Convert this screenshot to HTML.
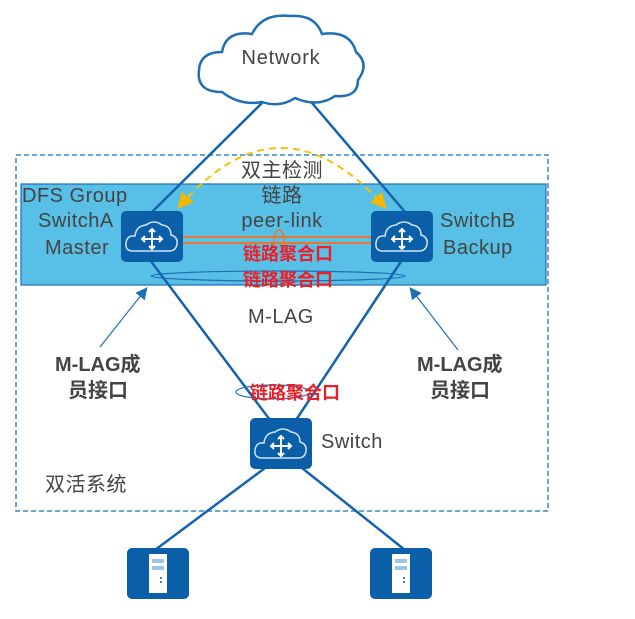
<!DOCTYPE html>
<html><head><meta charset="utf-8"><style>
html,body{margin:0;padding:0;background:#fff;}
svg text{font-family:"Liberation Sans","Noto Sans CJK SC",sans-serif;}
</style></head><body>
<svg width="635" height="614" viewBox="0 0 635 614" xmlns="http://www.w3.org/2000/svg">
<defs>
<g id="sw">
  <rect x="0" y="0" width="62" height="51" rx="5" fill="#0a5fa8"/>
  <path d="M12 40 Q4 40 5 32 Q6 24 14 25 Q15 15 25 14 Q33 8 41 14 Q50 15 50 24 Q57 26 56 33 Q55 40 48 40 Z" fill="none" stroke="#cfe3f5" stroke-width="1.5"/>
  <g stroke="#fff" stroke-width="2" fill="none">
    <line x1="31" y1="18" x2="31" y2="38"/><line x1="21" y1="28" x2="41" y2="28"/>
    <path d="M28 21 L31 18 L34 21 M28 35 L31 38 L34 35 M24 25 L21 28 L24 31 M38 25 L41 28 L38 31"/>
  </g>
</g>
<g id="srv">
  <rect x="0" y="0" width="62" height="51" rx="5" fill="#0a5fa8"/>
  <rect x="22" y="6" width="18" height="39" fill="#fff"/>
  <rect x="25" y="11" width="12" height="4" fill="#9cc4e6"/>
  <rect x="25" y="18" width="12" height="4" fill="#9cc4e6"/>
  <circle cx="34" cy="30" r="1" fill="#0a5fa8"/><circle cx="34" cy="34" r="1" fill="#0a5fa8"/>
</g>
<marker id="ay" markerWidth="8" markerHeight="8" refX="6" refY="4" orient="auto-start-reverse"><path d="M0 0 L8 4 L0 8 Z" fill="#f5b800"/></marker>
<marker id="ab" markerWidth="10" markerHeight="10" refX="8" refY="5" orient="auto"><path d="M0 0 L10 5 L0 10 Z" fill="#1f6fb5"/></marker>
</defs>

<rect x="16" y="155" width="532" height="356" fill="none" stroke="#3a86c8" stroke-width="1.5" stroke-dasharray="5,3"/>
<rect x="21" y="184" width="525" height="101" fill="#58bfe6" stroke="#1f6fb5" stroke-width="1.2"/>

<path d="M222 92 Q196 92 199 70 Q200 52 222 52 Q226 30 252 34 Q262 13 290 16 Q315 14 322 34 Q350 30 356 52 Q370 64 358 80 Q358 98 335 96 Q318 108 295 98 Q280 108 262 102 Q240 106 222 92 Z" fill="#fff" stroke="#1f6fb5" stroke-width="2.5"/>
<text x="281" y="64" font-size="20" letter-spacing="0.8" fill="#444" text-anchor="middle">Network</text>

<g stroke="#1463ad" stroke-width="2.5" fill="none">
  <line x1="262" y1="103" x2="152" y2="212"/>
  <line x1="312" y1="103" x2="405" y2="212"/>
  <line x1="150" y1="260" x2="270" y2="420"/>
  <line x1="402" y1="260" x2="296" y2="420"/>
  <line x1="265" y1="468" x2="155" y2="550"/>
  <line x1="302" y1="468" x2="405" y2="550"/>
</g>

<path d="M180 206 Q280 90 384 206" fill="none" stroke="#f5c000" stroke-width="2" stroke-dasharray="7,5" marker-start="url(#ay)" marker-end="url(#ay)"/>

<line x1="183" y1="237" x2="371" y2="237" stroke="#e8782b" stroke-width="2"/>
<line x1="183" y1="243" x2="371" y2="243" stroke="#e8782b" stroke-width="2"/>
<path d="M274 245 L274 236 Q279 224 284 236 L284 245" fill="none" stroke="#e8782b" stroke-width="1.5"/>

<ellipse cx="278" cy="276" rx="127" ry="5" fill="none" stroke="#1f6fb5" stroke-width="1.2"/>
<ellipse cx="273" cy="392" rx="37" ry="7" fill="none" stroke="#1f6fb5" stroke-width="1.2"/>

<use href="#sw" x="121" y="211"/>
<use href="#sw" x="371" y="211"/>
<use href="#sw" x="250" y="418"/>
<use href="#srv" x="127" y="548"/>
<use href="#srv" x="370" y="548"/>

<line x1="100" y1="347" x2="146" y2="289" stroke="#1f6fb5" stroke-width="1.2" marker-end="url(#ab)"/>
<line x1="458" y1="350" x2="411" y2="289" stroke="#1f6fb5" stroke-width="1.2" marker-end="url(#ab)"/>

<g font-size="20" letter-spacing="0.5" fill="#444">
<text x="22" y="202">DFS Group</text>
<text x="38" y="227">SwitchA</text>
<text x="45" y="254">Master</text>
<text x="440" y="227">SwitchB</text>
<text x="443" y="254">Backup</text>
<text x="282" y="177" text-anchor="middle">双主检测</text>
<text x="282" y="202" text-anchor="middle">链路</text>
<text x="282" y="227" text-anchor="middle">peer-link</text>
<text x="248" y="323">M-LAG</text>
<text x="321" y="448">Switch</text>
<text x="45" y="491">双活系统</text>
</g>
<g font-size="20" fill="#444" font-weight="bold">
<text x="55" y="371">M-LAG成</text>
<text x="68" y="397">员接口</text>
<text x="417" y="371">M-LAG成</text>
<text x="430" y="397">员接口</text>
</g>
<g font-size="18" fill="#ee1c25" font-weight="bold" text-anchor="middle">
<text x="288" y="260">链路聚合口</text>
<text x="288" y="286">链路聚合口</text>
<text x="295" y="399">链路聚合口</text>
</g>
</svg>
</body></html>
